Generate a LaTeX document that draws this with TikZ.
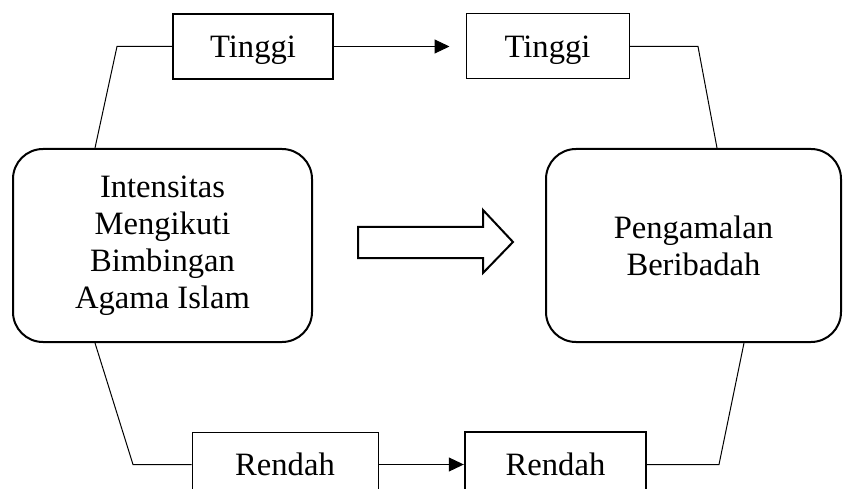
\documentclass[tikz,border=0pt]{standalone}
\usepackage{fontspec}
\setmainfont{Liberation Serif}
\usetikzlibrary{arrows.meta}
\begin{document}
\begin{tikzpicture}[x=1pt,y=-1pt,
  every node/.style={font=\fontsize{32.6}{37}\selectfont},
  lvl/.style={draw, line width=1pt, minimum width=161pt, minimum height=65pt, inner sep=0pt, text height=21.5pt, text depth=0pt},
  lvlthick/.style={lvl, line width=2.4pt},
  big/.style={draw, line width=2pt, rounded corners=30pt, minimum width=299pt, minimum height=193pt, align=center, inner sep=0pt},
  conn/.style={line width=1pt},
  arr/.style={conn, -{Triangle[length=15pt,width=14pt]}},
  blockarrow/.style={line width=2pt, line join=miter}
]
\useasboundingbox (0,0) rectangle (846,489);
\fill[white] (0,0) rectangle (846,489);

\node[big] (L) at (162.5,245.5) {Intensitas\\Mengikuti\\Bimbingan\\Agama Islam};
\node[big, minimum width=295pt] (R) at (693.5,245.5) {Pengamalan\\Beribadah};

\node[lvlthick, minimum width=160pt] (T1) at (253,46.5) {Tinggi};
\node[lvl, minimum width=163pt] (T2) at (547.5,46.5) {Tinggi};
\node[lvl, minimum width=186pt] (B1) at (285,464.5) {Rendah};
\node[lvlthick, minimum width=181pt] (B2) at (555.5,464.5) {Rendah};

\coordinate (k1) at (117,46.5);
\coordinate (k2) at (698,46.5);
\coordinate (k3) at (133,464.5);
\coordinate (k4) at (719,464.5);

\draw[conn] (T1.west) -- (k1) -- ([xshift=83pt]L.north west);
\draw[arr, shorten >=16pt] (T1.east) -- (T2.west);
\draw[conn] (T2.east) -- (k2) -- ([xshift=172pt]R.north west);
\draw[conn] ([xshift=83pt]L.south west) -- (k3) -- (B1.west);
\draw[arr] (B1.east) -- (B2.west);
\draw[conn] (B2.east) -- (k4) -- ([xshift=199pt]R.south west);

\draw[blockarrow] (358,227) -- (483,227) -- (483,210) -- (513,242) -- (483,273) -- (483,258) -- (358,258) -- cycle;
\end{tikzpicture}
\end{document}
